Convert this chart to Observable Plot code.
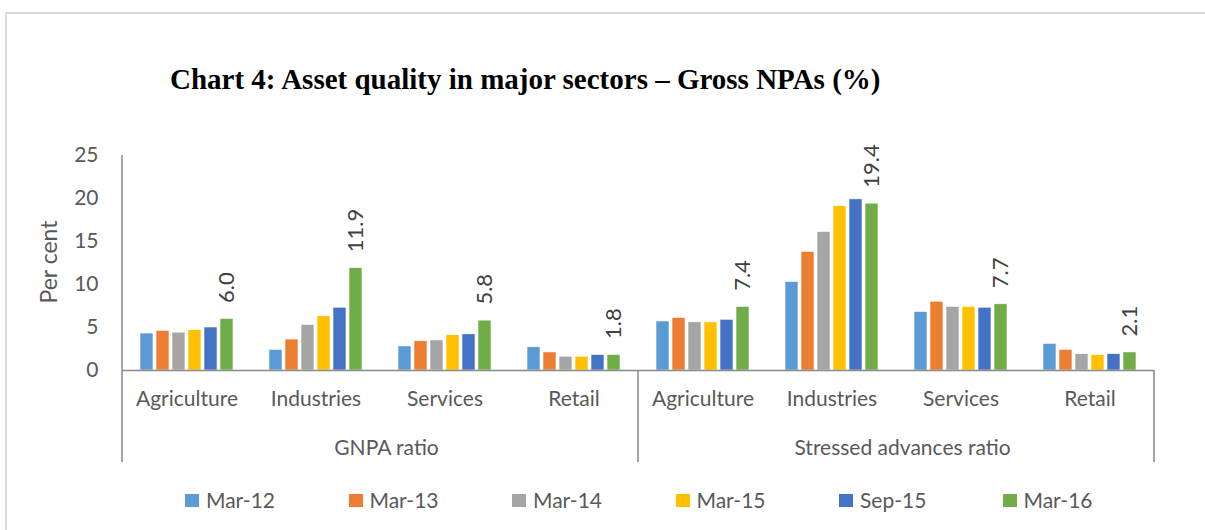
<!DOCTYPE html>
<html>
<head>
<meta charset="utf-8">
<script src="https://cdn.jsdelivr.net/npm/d3@7"></script>
<script src="https://cdn.jsdelivr.net/npm/@observablehq/plot@0.6"></script>
<style>
  html, body { margin: 0; padding: 0; background: #fff; }
  #wrap { position: relative; width: 1205px; height: 530px; overflow: hidden; background: #fff; }
  #border { position: absolute; left: 5px; top: 12px; width: 1300px; height: 700px; border: 2px solid #d9d9d9; box-sizing: border-box; }
  #title { position: absolute; left: 170px; top: 61px; font-family: "Liberation Serif", "Times New Roman", serif; font-weight: bold; font-size: 29px; color: #000; white-space: nowrap; line-height: 36px; }
  #ylabel { position: absolute; left: 48px; top: 262px; transform: translate(-50%, -50%) rotate(-90deg); font-family: Lato, sans-serif; font-size: 23px; color: #595959; white-space: nowrap; }
  #chart { position: absolute; left: 0; top: 0; }
  #legend { position: absolute; left: 185px; top: 486px; display: flex; font-family: Lato, sans-serif; font-size: 21px; color: #595959; line-height: 28px; }
  .item { width: 163.5px; display: flex; align-items: center; }
  .sw { width: 14px; height: 13px; margin-right: 7px; }
</style>
</head>
<body>
<div id="wrap">
  <div id="border"></div>
  <div id="title"></div>
  <div id="chart"></div>
  <div id="ylabel"></div>
  <div id="legend"></div>
</div>
<script>
const titleText = "Chart 4: Asset quality in major sectors \u2013 Gross NPAs (%)";
const yLabel = "Per cent";
const groups = ["GNPA ratio", "Stressed advances ratio"];
const sectors = ["Agriculture", "Industries", "Services", "Retail"];
const periods = ["Mar-12", "Mar-13", "Mar-14", "Mar-15", "Sep-15", "Mar-16"];
const colors = ["#5B9BD5", "#ED7D31", "#A5A5A5", "#FFC000", "#4472C4", "#70AD47"];
const yTicks = [0, 5, 10, 15, 20, 25];

// values per sector, in the order of periods
const gnpaAgriculture = [4.3, 4.6, 4.4, 4.7, 5.0, 6.0];
const gnpaIndustries  = [2.4, 3.6, 5.3, 6.3, 7.3, 11.9];
const gnpaServices    = [2.8, 3.4, 3.5, 4.1, 4.2, 5.8];
const gnpaRetail      = [2.7, 2.1, 1.6, 1.6, 1.8, 1.8];
const stressAgriculture = [5.7, 6.1, 5.6, 5.6, 5.9, 7.4];
const stressIndustries  = [10.3, 13.8, 16.1, 19.1, 19.9, 19.4];
const stressServices    = [6.8, 8.0, 7.4, 7.4, 7.3, 7.7];
const stressRetail      = [3.1, 2.4, 1.9, 1.8, 1.9, 2.1];

const valueTable = [
  [gnpaAgriculture, gnpaIndustries, gnpaServices, gnpaRetail],
  [stressAgriculture, stressIndustries, stressServices, stressRetail]
];

const keys = [];
const data = [];
groups.forEach((g, gi) => sectors.forEach((s, si) => {
  const key = g + "|" + s;
  keys.push(key);
  periods.forEach((p, pi) => data.push({key, group: g, sector: s, period: p, value: valueTable[gi][si][pi]}));
}));

document.getElementById("title").textContent = titleText;
document.getElementById("ylabel").textContent = yLabel;

const chart = Plot.plot({
  width: 1205,
  height: 530,
  marginTop: 155,
  marginBottom: 160,
  marginLeft: 119,
  marginRight: 48,
  style: {fontFamily: "Lato, sans-serif", fontSize: "21px", color: "#595959", background: "transparent", overflow: "visible"},
  fx: {domain: keys, padding: 0, axis: "bottom", label: null, tickSize: 0, tickPadding: 21, tickFormat: k => k.split("|")[1]},
  x: {domain: periods, paddingInner: 0.18, paddingOuter: 0.97, axis: null},
  y: {domain: [0, 25], ticks: yTicks, tickSize: 0, tickPadding: 24, label: null},
  color: {domain: periods, range: colors},
  marks: [
    Plot.barY(data, {fx: "key", x: "period", y: "value", fill: "period", stroke: "white", strokeWidth: 0.6}),
    Plot.ruleY([0], {stroke: "#898989", strokeWidth: 1.5}),
    Plot.text(data.filter(d => d.period === "Mar-16"), {
      fx: "key", x: "period", y: "value", text: d => d.value.toFixed(1),
      rotate: -90, textAnchor: "start", dy: -16, fill: "#404040", fontSize: 22
    }),
    Plot.text(groups, {
      fx: g => g + "|" + sectors[1], frameAnchor: "bottom-right", dy: 84, dx: 6,
      text: d => d, textAnchor: "middle", fill: "#595959", fontSize: 21
    })
  ]
});
document.getElementById("chart").appendChild(chart);

// category separators derived from the fx and y scales
const fxs = chart.scale("fx");
const ys = chart.scale("y");
const bottom = ys.apply(0) + 92;
const edges = [fxs.apply(keys[0]), fxs.apply(keys[sectors.length]), fxs.apply(keys[keys.length - 1]) + fxs.bandwidth];
const svg = d3.select(chart);
const g = svg.append("g").attr("stroke", "#898989").attr("stroke-width", 1.5);
edges.forEach((x, i) => {
  g.append("line").attr("x1", x).attr("x2", x)
    .attr("y1", i === 0 ? ys.apply(25) : ys.apply(0)).attr("y2", bottom);
});

// legend
const legend = d3.select("#legend");
periods.forEach((p, i) => {
  const it = legend.append("div").attr("class", "item");
  it.append("div").attr("class", "sw").style("background", colors[i]);
  it.append("span").text(p);
});
</script>
</body>
</html>
